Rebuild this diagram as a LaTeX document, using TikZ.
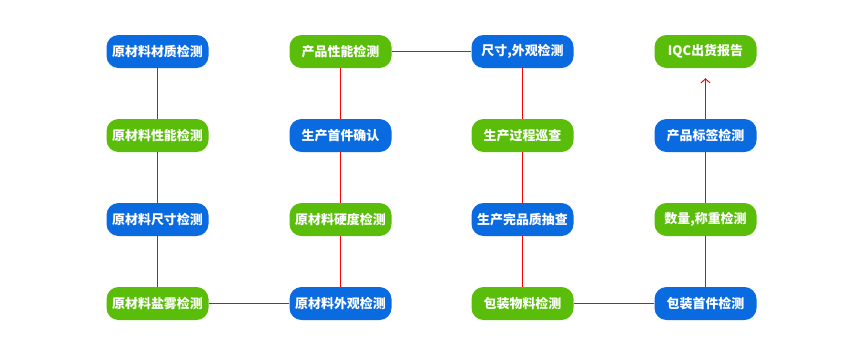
\documentclass[tikz,border=0pt]{standalone}
\usepackage{fontspec}
\newfontfamily\cjk{Noto Sans CJK SC}
\usepackage{tikz}
\usetikzlibrary{arrows.meta}
\definecolor{stepblue}{HTML}{0A6ADF}
\definecolor{stepgreen}{HTML}{5ABD0A}
\definecolor{linkred}{HTML}{FF0000}

\begin{document}
\begin{tikzpicture}[x=1bp,y=-1bp,font=\cjk\fontsize{13}{15}\selectfont\bfseries,
  qcbox/.style={rounded corners=12bp,minimum width=102bp,minimum height=33bp,inner sep=0pt,text=white},
  bluebox/.style={qcbox,fill=stepblue},
  greenbox/.style={qcbox,fill=stepgreen},
  link/.style={draw=linkred,line width=1bp}]
  \useasboundingbox (0,0) rectangle (861,355);

  % raw material column
  \node[bluebox]  (matA) at (157.5,51.5)  {原材料材质检测};
  \node[greenbox] (matB) at (157.5,135.5) {原材料性能检测};
  \node[bluebox]  (matC) at (157.5,219.5) {原材料尺寸检测};
  \node[greenbox] (matD) at (157.5,303.5) {原材料盐雾检测};

  % production column
  \node[greenbox] (prodA) at (340.5,51.5)  {产品性能检测};
  \node[bluebox]  (prodB) at (340.5,135.5) {生产首件确认};
  \node[greenbox] (prodC) at (340.5,219.5) {原材料硬度检测};
  \node[bluebox]  (prodD) at (340.5,303.5) {原材料外观检测};

  % inspection column
  \node[bluebox]  (chkA) at (522.5,51.5)  {尺寸,外观检测};
  \node[greenbox] (chkB) at (522.5,135.5) {生产过程巡查};
  \node[bluebox]  (chkC) at (522.5,219.5) {生产完品质抽查};
  \node[greenbox] (chkD) at (522.5,303.5) {包装物料检测};

  % packing column
  \node[greenbox] (packA) at (705.5,51.5)  {IQC出货报告};
  \node[bluebox]  (packB) at (705.5,135.5) {产品标签检测};
  \node[greenbox] (packC) at (705.5,219.5) {数量,称重检测};
  \node[bluebox]  (packD) at (705.5,303.5) {包装首件检测};

  \draw[link] (matA) -- (matB) -- (matC) -- (matD) -- (prodD);
  \draw[link] (prodD) -- (prodC) -- (prodB) -- (prodA) -- (chkA);
  \draw[link] (chkA) -- (chkB) -- (chkC) -- (chkD) -- (packD);
  \draw[link] (packD) -- (packC) -- (packB);
  \draw[link,-{Straight Barb[length=4bp,width=9bp]},shorten >=10bp] (packB) -- (packA);
\end{tikzpicture}
\end{document}
